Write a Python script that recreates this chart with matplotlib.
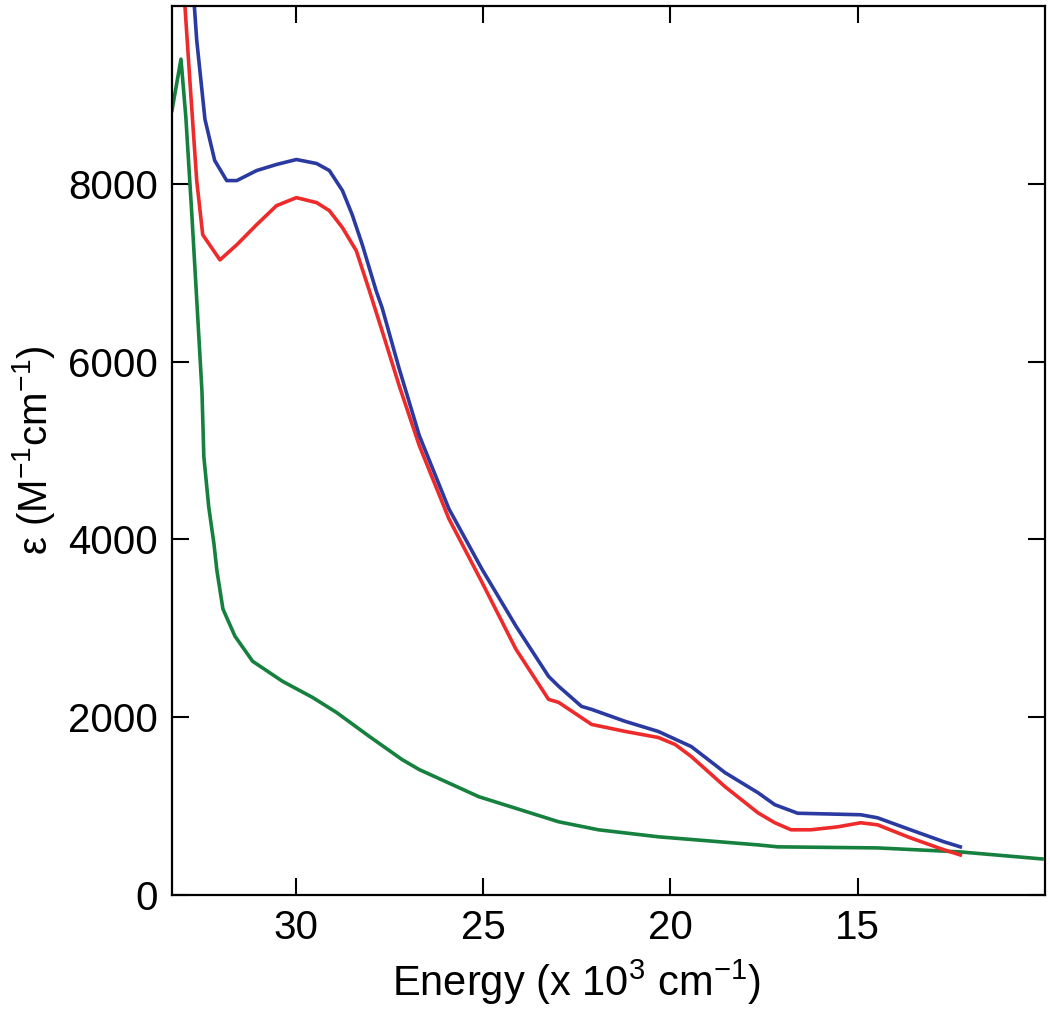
import matplotlib
matplotlib.use("Agg")
import matplotlib.pyplot as plt

plt.rcParams['font.family'] = ['Liberation Sans', 'DejaVu Sans']
plt.rcParams['mathtext.default'] = 'regular'

# energies in 10^3 cm^-1, epsilon in M^-1 cm^-1
blue_e = [32.72, 32.64, 32.42, 32.16, 31.84, 31.57, 31.04, 30.51, 29.98, 29.44,
          29.10, 28.75, 28.49, 28.22, 27.85, 27.69, 27.24, 26.70, 25.91, 25.03,
          24.12, 23.25, 22.98, 22.37, 22.10, 21.20, 20.32, 19.44, 18.99, 18.54,
          17.66, 17.21, 16.60, 14.92, 14.47, 13.59, 12.69, 12.26]
blue_eps = [10100, 9616, 8725, 8262, 8036, 8036, 8149, 8217, 8273, 8228,
            8149, 7923, 7652, 7314, 6795, 6603, 5926, 5169, 4345, 3668,
            3025, 2460, 2348, 2122, 2088, 1953, 1840, 1670, 1524, 1377,
            1151, 1016, 920, 903, 869, 734, 598, 542]

red_e = [32.97, 32.82, 32.64, 32.48, 32.02, 31.57, 31.04, 30.51, 29.98, 29.44,
         29.10, 28.75, 28.38, 28.03, 27.69, 27.24, 26.70, 25.91, 25.03, 24.12,
         23.25, 22.98, 22.10, 21.20, 20.32, 19.87, 19.44, 18.54, 17.66, 17.21,
         16.78, 16.25, 15.53, 14.92, 14.47, 13.59, 12.69, 12.26]
red_eps = [10100, 9142, 8036, 7427, 7144, 7314, 7540, 7754, 7844, 7788,
           7698, 7506, 7246, 6795, 6343, 5734, 5056, 4233, 3521, 2765,
           2201, 2167, 1919, 1840, 1772, 1693, 1558, 1219, 925, 813,
           734, 734, 767, 813, 790, 643, 508, 451]

green_e = [33.30, 33.06, 32.93, 32.77, 32.64, 32.50, 32.45, 32.32, 32.18, 32.10,
           31.94, 31.62, 31.15, 30.35, 29.55, 28.91, 28.03, 27.16, 26.70, 25.11,
           22.98, 21.92, 20.32, 17.66, 17.13, 14.47, 12.26, 10.08]
green_eps = [8826, 9402, 8747, 7652, 6700, 5666, 4932, 4368, 3950, 3646,
             3217, 2912, 2630, 2404, 2223, 2054, 1783, 1524, 1411, 1106,
             824, 734, 655, 564, 542, 530, 485, 406]

xticks = [30, 25, 20, 15]
yticks = [0, 2000, 4000, 6000, 8000]

fig = plt.figure(figsize=(10.5, 10.11), dpi=100)
ax = fig.add_axes([0.1638, 0.1147, 0.8314, 0.8794])

ax.plot(green_e, green_eps, color='#16803f', lw=2.6)
ax.plot(red_e, red_eps, color='#ee2a2a', lw=2.6)
ax.plot(blue_e, blue_eps, color='#2b3aa0', lw=2.6)

ax.set_xlim(33.3, 10.0)
ax.set_ylim(0, 10000)
ax.set_xticks(xticks)
ax.set_yticks(yticks)
ax.tick_params(direction='in', length=12, width=1.5, top=True, right=True,
               labelsize=29, pad=10)
for s in ax.spines.values():
    s.set_linewidth(1.6)

ax.set_xlabel('Energy (x 10$^3$ cm$^{-1}$)', fontsize=30, labelpad=4)
ax.xaxis.set_label_coords(0.463, -0.07)
ax.set_ylabel('ε (M$^{-1}$cm$^{-1}$)', fontsize=29, labelpad=8)

fig.savefig('out.png', dpi=100)
